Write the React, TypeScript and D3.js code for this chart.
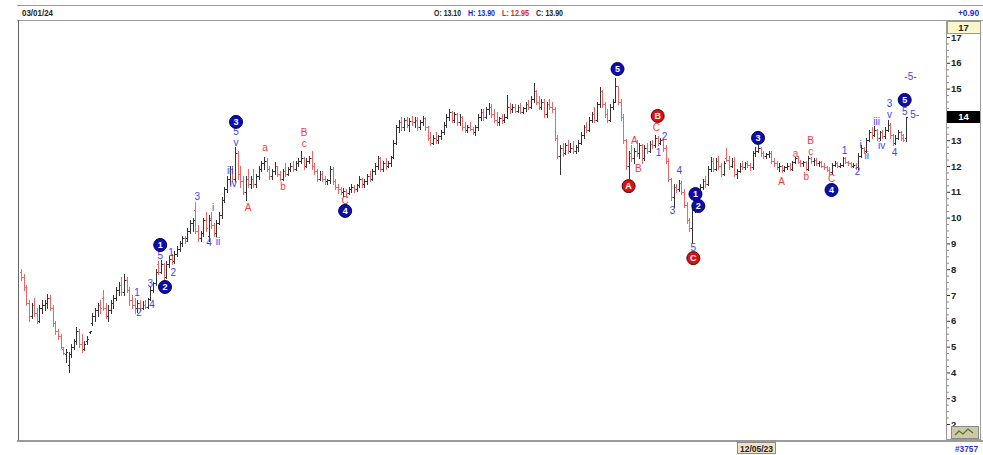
import { useEffect, useRef } from "react";
import * as d3 from "d3";

type Bar = [number, number, number, number]; // open, high, low, close
type Mark = { t: string; i: number; p: number };

// Opening decline into the low
const declineBars: Bar[] = [
  [7.9, 8.0, 7.6, 7.7], [7.7, 7.8, 7.2, 7.3], [7.3, 7.4, 6.6, 6.7], [6.7, 6.8, 6.0, 6.2],
  [6.2, 6.7, 6.1, 6.6], [6.6, 6.9, 6.2, 6.3], [6.3, 6.5, 5.9, 6.0], [6.0, 6.6, 5.95, 6.5],
  [6.5, 6.8, 6.3, 6.6], [6.6, 6.8, 6.4, 6.7], [6.7, 7.05, 6.5, 6.9], [6.9, 7.0, 6.4, 6.5],
  [6.5, 6.6, 5.8, 5.9], [5.9, 6.0, 5.5, 5.6], [5.6, 5.7, 5.3, 5.4], [5.4, 5.5, 4.95, 5.0],
  [4.9, 5.0, 4.7, 4.75], [4.7, 4.9, 4.4, 4.8], [4.3, 4.8, 4.0, 4.7]
];

// Waves 1 and 2
const wave1Bars: Bar[] = [
  [4.7, 5.1, 4.6, 5.0], [5.0, 5.3, 4.9, 5.2], [5.2, 5.75, 5.1, 5.6], [5.6, 5.7, 5.0, 5.1],
  [5.1, 5.5, 4.8, 4.9], [4.9, 5.2, 4.85, 5.1], [5.2, 5.4, 5.1, 5.3], [5.55, 5.62, 5.52, 5.6],
  [5.9, 6.3, 5.85, 6.2], [6.2, 6.5, 6.0, 6.4], [6.4, 6.7, 6.2, 6.6], [6.6, 6.8, 6.3, 6.5],
  [6.9, 7.2, 6.4, 6.5], [6.5, 6.7, 6.1, 6.2], [6.2, 6.6, 6.0, 6.4], [6.4, 6.8, 6.3, 6.7],
  [6.7, 7.0, 6.5, 6.9], [6.9, 7.3, 6.8, 7.2], [7.2, 7.5, 7.0, 7.4], [7.4, 7.7, 7.0, 7.1],
  [7.1, 7.8, 7.0, 7.6], [7.6, 7.7, 7.1, 7.2], [7.2, 7.3, 6.6, 6.8], [6.8, 7.0, 6.5, 6.6],
  [6.6, 6.9, 6.3, 6.5], [6.5, 6.8, 6.35, 6.7], [6.7, 6.8, 6.4, 6.5], [6.5, 6.75, 6.45, 6.6],
  [6.6, 6.8, 6.5, 6.55], [6.55, 6.9, 6.5, 6.85], [6.85, 7.3, 6.8, 7.2], [7.2, 7.5, 7.1, 7.45],
  [7.45, 8.0, 7.4, 7.9], [8.2, 8.3, 7.8, 7.9], [7.9, 8.35, 7.85, 8.2], [8.2, 8.25, 7.6, 7.7]
];

// Wave 3 with its subwaves
const wave3Bars: Bar[] = [
  [7.7, 8.3, 7.65, 8.2], [8.2, 8.5, 8.1, 8.4], [8.4, 8.6, 8.2, 8.3], [8.3, 8.7, 8.25, 8.6],
  [8.6, 8.9, 8.5, 8.8], [8.8, 9.1, 8.7, 9.0], [9.0, 9.3, 8.9, 9.2], [9.2, 9.3, 9.0, 9.1],
  [9.2, 9.6, 9.1, 9.5], [9.5, 9.9, 9.4, 9.8], [9.8, 10.0, 9.5, 9.9], [10.3, 10.6, 9.4, 9.5],
  [9.5, 9.7, 9.1, 9.2], [9.2, 9.5, 9.1, 9.4], [9.4, 10.0, 9.3, 9.9], [9.9, 10.2, 9.5, 9.6],
  [9.3, 10.1, 9.1, 9.9], [10.0, 10.2, 9.6, 9.7], [9.7, 9.8, 9.3, 9.4], [9.4, 9.9, 9.3, 9.8],
  [9.8, 10.2, 9.75, 10.1], [10.1, 10.8, 10.0, 10.7], [10.7, 11.2, 10.6, 11.1], [11.1, 11.6, 11.0, 11.5],
  [11.5, 12.0, 11.3, 11.9], [11.9, 12.0, 11.4, 11.5], [11.5, 12.75, 11.4, 12.5]
];

// Wave 4 (A-B-C) and start of wave 5
const wave4Bars: Bar[] = [
  [12.5, 12.6, 11.5, 11.7], [11.7, 12.0, 11.2, 11.4], [11.4, 11.6, 10.9, 11.0], [11.0, 11.6, 10.7, 11.5],
  [11.5, 11.9, 11.2, 11.3], [11.3, 11.6, 11.15, 11.5], [11.5, 11.9, 11.2, 11.3], [11.3, 11.7, 11.2, 11.6],
  [11.6, 12.0, 11.5, 11.9], [11.9, 12.2, 11.8, 12.1], [12.1, 12.35, 11.9, 12.2], [12.2, 12.3, 11.8, 11.9],
  [11.9, 12.0, 11.5, 11.6], [11.6, 11.9, 11.5, 11.8], [11.8, 12.15, 11.7, 12.0], [12.0, 12.0, 11.6, 11.7],
  [11.7, 11.8, 11.45, 11.5], [11.5, 11.9, 11.45, 11.8], [11.8, 12.1, 11.6, 11.7], [11.7, 11.95, 11.65, 11.9],
  [11.9, 12.1, 11.8, 12.0], [12.0, 12.2, 11.8, 11.9], [11.9, 12.2, 11.85, 12.1], [12.1, 12.3, 12.0, 12.2],
  [12.2, 12.6, 12.1, 12.3], [12.3, 12.35, 11.9, 12.0], [12.0, 12.3, 11.95, 12.2], [12.2, 12.4, 12.1, 12.3],
  [12.3, 12.6, 11.9, 12.0], [12.0, 12.1, 11.7, 11.8], [11.8, 11.9, 11.4, 11.5], [11.5, 11.8, 11.45, 11.7],
  [11.7, 11.8, 11.4, 11.5], [11.5, 11.6, 11.3, 11.4], [11.4, 11.5, 11.3, 11.45], [11.45, 12.0, 11.35, 11.9],
  [11.9, 11.95, 11.3, 11.4], [11.4, 11.5, 11.1, 11.2], [11.2, 11.3, 10.95, 11.1], [11.1, 11.2, 10.9, 11.0],
  [11.0, 11.15, 10.85, 11.05], [11.05, 11.1, 10.8, 10.95], [10.95, 11.2, 10.9, 11.1], [11.1, 11.3, 11.0, 11.2],
  [11.2, 11.25, 11.0, 11.1], [11.1, 11.3, 11.05, 11.25], [11.25, 11.6, 11.2, 11.5], [11.5, 11.55, 11.2, 11.3],
  [11.3, 11.5, 11.2, 11.4], [11.4, 11.7, 11.3, 11.6], [11.6, 11.8, 11.4, 11.5], [11.5, 11.9, 11.45, 11.8],
  [11.8, 12.1, 11.7, 12.0], [12.0, 12.4, 11.9, 12.3], [12.3, 12.35, 11.8, 11.9], [11.9, 12.2, 11.8, 12.1],
  [12.1, 12.3, 11.9, 12.0], [12.0, 12.2, 11.95, 12.1], [12.1, 12.4, 12.0, 12.35]
];

// Plateau up to the wave 5 top
const wave5Bars: Bar[] = [
  [12.35, 13.0, 12.3, 12.9], [12.9, 13.6, 12.85, 13.5], [13.5, 13.8, 13.3, 13.7], [13.7, 13.9, 13.4, 13.5],
  [13.5, 13.85, 13.4, 13.8], [13.8, 13.9, 13.5, 13.6], [13.6, 13.85, 13.35, 13.75], [13.75, 13.95, 13.6, 13.7],
  [13.7, 13.9, 13.5, 13.8], [13.8, 13.9, 13.4, 13.5], [13.5, 13.8, 13.45, 13.7], [13.7, 13.95, 13.6, 13.85],
  [13.85, 13.9, 13.4, 13.5], [13.5, 13.55, 13.0, 13.1], [13.1, 13.3, 12.8, 12.9], [12.9, 13.2, 12.85, 13.1],
  [13.1, 13.3, 12.9, 13.0], [13.0, 13.2, 12.9, 13.15], [13.15, 13.4, 13.05, 13.3], [13.3, 13.7, 13.25, 13.6],
  [13.6, 14.0, 13.5, 13.9], [13.9, 14.2, 13.8, 14.1], [14.1, 14.15, 13.7, 13.8], [13.8, 14.1, 13.7, 14.0],
  [14.0, 14.05, 13.6, 13.7], [13.7, 14.0, 13.6, 13.9], [13.9, 13.95, 13.4, 13.5], [13.5, 13.7, 13.3, 13.4],
  [13.4, 13.6, 13.3, 13.5], [13.5, 13.7, 13.4, 13.45], [13.45, 13.5, 13.25, 13.3], [13.3, 13.6, 13.2, 13.5],
  [13.5, 14.0, 13.4, 13.9], [13.9, 14.2, 13.8, 14.1], [14.1, 14.2, 13.8, 13.9], [13.9, 14.3, 13.85, 14.2],
  [14.2, 14.45, 14.0, 14.3], [14.3, 14.4, 13.9, 14.0], [14.0, 14.2, 13.7, 13.8], [13.8, 14.1, 13.6, 13.7],
  [13.7, 13.9, 13.6, 13.85], [13.85, 14.0, 13.65, 13.8], [13.8, 14.0, 13.7, 13.9], [13.9, 14.75, 13.85, 14.3],
  [14.3, 14.45, 14.05, 14.2], [14.2, 14.4, 14.1, 14.3], [14.3, 14.4, 14.1, 14.15], [14.15, 14.35, 14.1, 14.3],
  [14.3, 14.45, 14.05, 14.1], [14.1, 14.3, 14.05, 14.25], [14.25, 14.5, 14.15, 14.4], [14.4, 14.55, 14.2, 14.3],
  [14.3, 14.7, 14.25, 14.6], [14.6, 15.2, 14.5, 14.9], [14.9, 14.95, 14.4, 14.5], [14.5, 14.7, 14.2, 14.3],
  [14.3, 14.6, 14.2, 14.5], [14.5, 14.6, 13.9, 14.0], [14.0, 14.5, 13.9, 14.4], [14.4, 14.6, 14.2, 14.3],
  [14.3, 14.5, 14.1, 14.2], [14.2, 14.3, 13.0, 13.1], [13.1, 13.2, 12.3, 12.4], [12.4, 12.8, 11.7, 12.7]
];

// Final push and the A-B-C drop
const dropBars: Bar[] = [
  [12.7, 12.9, 12.4, 12.5], [12.5, 12.9, 12.45, 12.8], [12.8, 13.0, 12.5, 12.6], [12.6, 12.9, 12.55, 12.7],
  [12.7, 12.95, 12.5, 12.6], [12.6, 12.8, 12.5, 12.75], [12.75, 13.0, 12.6, 12.9], [12.9, 13.3, 12.85, 13.2],
  [13.2, 13.6, 13.1, 13.5], [13.5, 13.7, 13.3, 13.4], [13.4, 13.9, 13.35, 13.8], [13.8, 14.1, 13.7, 14.0],
  [14.0, 14.3, 13.7, 13.8], [13.8, 14.5, 13.75, 14.4], [14.4, 15.05, 14.3, 14.9], [14.9, 14.95, 14.3, 14.4],
  [14.4, 14.5, 13.9, 14.0], [14.0, 14.2, 13.7, 13.8], [13.8, 14.4, 13.75, 14.3], [14.3, 14.6, 14.2, 14.5],
  [14.5, 15.4, 14.5, 15.1], [15.1, 15.1, 14.4, 14.5], [14.5, 14.6, 13.8, 13.9], [13.9, 14.0, 12.9, 13.0],
  [13.0, 13.05, 11.9, 12.0], [12.0, 12.6, 11.55, 12.5], [12.5, 12.8, 12.2, 12.3], [12.3, 12.7, 12.1, 12.6],
  [12.6, 13.0, 12.4, 12.5], [12.5, 12.9, 12.3, 12.8], [12.8, 12.85, 12.1, 12.3], [12.3, 12.8, 12.25, 12.7],
  [12.7, 12.9, 12.5, 12.6], [12.6, 12.95, 12.55, 12.85], [12.85, 13.0, 12.7, 12.8], [12.8, 13.2, 12.75, 13.1],
  [13.1, 13.15, 12.8, 12.9], [12.9, 13.1, 12.85, 13.0], [13.0, 13.1, 12.6, 12.7], [12.7, 12.8, 12.1, 12.2],
  [12.2, 12.3, 11.4, 11.5], [11.5, 11.55, 10.7, 10.8], [10.8, 11.3, 10.4, 11.2], [11.2, 11.3, 11.0, 11.1],
  [11.1, 11.45, 11.05, 11.35], [11.35, 11.4, 10.9, 11.0], [11.0, 11.1, 10.4, 10.5], [10.5, 10.6, 9.8, 9.9],
  [9.9, 10.0, 9.5, 9.6], [9.6, 10.4, 9.05, 10.3]
];

// New impulse from the C low
const recoveryBars: Bar[] = [
  [10.3, 10.7, 10.2, 10.6], [10.6, 11.0, 10.5, 10.9], [10.9, 11.3, 10.8, 11.2], [11.2, 11.5, 11.1, 11.4],
  [11.4, 11.6, 11.2, 11.3], [11.3, 12.0, 11.25, 11.9], [11.9, 12.35, 11.8, 12.2], [12.2, 12.3, 11.8, 11.9],
  [11.9, 12.3, 11.85, 12.2], [12.2, 12.4, 11.9, 12.0], [12.0, 12.1, 11.6, 11.7], [11.7, 12.2, 11.65, 12.1],
  [12.3, 12.7, 12.2, 12.25], [12.25, 12.4, 11.9, 12.0], [12.0, 12.3, 11.95, 12.2], [12.2, 12.35, 11.6, 11.7],
  [11.7, 11.9, 11.55, 11.8], [11.8, 12.1, 11.75, 12.0], [12.0, 12.2, 11.9, 11.95], [11.95, 12.15, 11.9, 12.1],
  [12.1, 12.2, 11.95, 12.05], [12.05, 12.1, 11.85, 11.95], [11.95, 12.6, 11.9, 12.5], [12.5, 12.75, 12.4, 12.6],
  [12.6, 12.8, 12.55, 12.7], [12.7, 12.75, 12.4, 12.5], [12.5, 12.6, 12.3, 12.4], [12.4, 12.5, 12.3, 12.45],
  [12.45, 12.6, 12.35, 12.5], [12.5, 12.6, 12.1, 12.2], [12.2, 12.3, 12.0, 12.1], [12.1, 12.2, 11.9, 11.95],
  [11.95, 12.1, 11.8, 12.0], [12.0, 12.05, 11.75, 11.85], [11.85, 12.0, 11.8, 11.95], [11.95, 12.1, 11.9, 12.0],
  [12.0, 12.1, 11.85, 11.9], [11.9, 12.2, 11.85, 12.15], [12.15, 12.35, 12.1, 12.3], [12.3, 12.4, 12.1, 12.15],
  [12.15, 12.25, 12.0, 12.1], [12.1, 12.2, 12.0, 12.15], [12.15, 12.2, 11.85, 11.9], [11.9, 12.4, 11.85, 12.3],
  [12.3, 12.35, 12.1, 12.2], [12.2, 12.3, 12.05, 12.25], [12.25, 12.3, 12.05, 12.1], [12.1, 12.2, 12.0, 12.15],
  [12.15, 12.2, 11.95, 12.0], [12.0, 12.1, 11.9, 11.95], [11.95, 12.0, 11.8, 11.85], [11.85, 11.95, 11.7, 11.75],
  [11.75, 12.1, 11.7, 12.05], [12.05, 12.2, 12.0, 12.1], [12.1, 12.15, 11.95, 12.0], [12.0, 12.1, 11.95, 12.05],
  [12.05, 12.35, 12.0, 12.3], [12.3, 12.35, 12.1, 12.15], [12.15, 12.2, 12.05, 12.1], [12.1, 12.15, 11.95, 12.0],
  [12.0, 12.1, 11.95, 12.05], [12.05, 12.1, 11.9, 11.95], [11.95, 12.5, 11.9, 12.4], [12.4, 12.8, 12.35, 12.7],
  [12.7, 12.75, 12.5, 12.6], [12.6, 13.1, 12.55, 13.0], [13.0, 13.4, 12.95, 13.3], [13.3, 13.5, 13.1, 13.2],
  [13.2, 13.55, 13.15, 13.4], [13.4, 13.45, 13.0, 13.1], [13.1, 13.35, 13.0, 13.3], [13.3, 13.4, 13.1, 13.15],
  [13.15, 13.5, 13.1, 13.4], [13.4, 13.8, 13.35, 13.6], [13.6, 13.65, 13.1, 13.2], [13.2, 13.25, 12.8, 12.9],
  [12.9, 13.2, 12.85, 13.1], [13.1, 13.4, 13.05, 13.3], [13.3, 13.35, 13.0, 13.1], [13.2, 13.25, 12.95, 13.0],
  [13.1, 13.9, 12.95, 13.9]
];

const priceTicks = [2, 3, 4, 5, 6, 7, 8, 9, 10, 11, 12, 13, 14, 15, 16, 17];

// Elliott wave counts (bar index, price)
const blueCircles: Mark[] = [
  { t: "1", i: 52.7, p: 8.94 }, { t: "2", i: 54.5, p: 7.31 }, { t: "3", i: 81.4, p: 13.71 },
  { t: "4", i: 122.7, p: 10.26 }, { t: "5", i: 225.8, p: 15.76 }, { t: "1", i: 255.3, p: 10.91 },
  { t: "2", i: 256.4, p: 10.45 }, { t: "3", i: 279, p: 13.09 }, { t: "4", i: 306.8, p: 11.07 },
  { t: "5", i: 334.5, p: 14.56 }
];
const redCircles: Mark[] = [
  { t: "A", i: 230, p: 11.22 }, { t: "B", i: 241, p: 13.94 }, { t: "C", i: 254.5, p: 8.43 }
];
const blueLabels: Mark[] = [
  { t: "5", i: 52.7, p: 8.55 }, { t: "1", i: 56.8, p: 8.63 }, { t: "2", i: 57.6, p: 7.89 },
  { t: "3", i: 48.9, p: 7.43 }, { t: "1", i: 43.9, p: 7.08 }, { t: "2", i: 44.7, p: 6.34 },
  { t: "4", i: 49.6, p: 6.65 }, { t: "3", i: 66.7, p: 10.8 }, { t: "i", i: 72.7, p: 10.41 },
  { t: "4", i: 71.2, p: 9.05 }, { t: "ii", i: 74.6, p: 9.09 }, { t: "5", i: 81.4, p: 13.33 },
  { t: "v", i: 81.4, p: 12.93 }, { t: "iii", i: 79.2, p: 11.81 }, { t: "iv", i: 80.3, p: 11.34 },
  { t: "1", i: 241.3, p: 12.54 }, { t: "2", i: 243.6, p: 13.16 }, { t: "3", i: 246.6, p: 10.26 },
  { t: "4", i: 249.2, p: 11.84 }, { t: "5", i: 254.5, p: 8.86 }, { t: "1", i: 311.7, p: 12.62 },
  { t: "2", i: 316.7, p: 11.77 }, { t: "i", i: 317.8, p: 12.85 }, { t: "ii", i: 320.1, p: 12.39 },
  { t: "iii", i: 323.9, p: 13.74 }, { t: "iv", i: 325.8, p: 12.78 }, { t: "3", i: 328.8, p: 14.41 },
  { t: "v", i: 328.8, p: 14.0 }, { t: "4", i: 330.7, p: 12.54 }, { t: "5", i: 334.5, p: 14.13 },
  { t: "5-", i: 338.3, p: 13.98 }, { t: "-5-", i: 336.7, p: 15.45 }
];
const redLabels: Mark[] = [
  { t: "A", i: 86, p: 10.41 }, { t: "a", i: 92.4, p: 12.7 }, { t: "b", i: 99.2, p: 11.19 },
  { t: "B", i: 107.2, p: 13.3 }, { t: "c", i: 107.2, p: 12.87 }, { t: "C", i: 122.7, p: 10.68 },
  { t: "A", i: 232.2, p: 12.97 }, { t: "B", i: 233.7, p: 11.92 }, { t: "C", i: 240.5, p: 13.51 },
  { t: "A", i: 287.9, p: 11.38 }, { t: "a", i: 293.2, p: 12.47 }, { t: "b", i: 297.3, p: 11.61 },
  { t: "B", i: 298.9, p: 13.0 }, { t: "c", i: 298.9, p: 12.57 }, { t: "C", i: 306.8, p: 11.5 }
];

const lastDate = "03/01/24";
const cursorDate = "12/05/23";
const quoteParts = ["O: 13.10", "H: 13.90", "L: 12.95", "C: 13.90"];
const quoteChange = "+0.90";
const barCount = "#3757";

const FONT = "'Liberation Sans', Arial, sans-serif";

export default function App() {
  const svgRef = useRef<SVGSVGElement>(null);

  useEffect(() => {
    if (!svgRef.current) return;
    const svg = d3.select(svgRef.current);
    svg.selectAll("*").remove();

    const bars = [
      ...declineBars, ...wave1Bars, ...wave3Bars, ...wave4Bars,
      ...wave5Bars, ...dropBars, ...recoveryBars
    ];
    const last = bars[bars.length - 1];
    const lastTag = Math.round(last[3]);

    const x = d3.scaleLinear().domain([0, bars.length - 1]).range([21, 906]);
    const y = d3.scaleLinear().domain([2, 17]).range([424, 37]);
    const px = (i: number) => Math.round(x(i)) + 0.5;
    const py = (v: number) => Math.round(y(v)) + 0.5;

    svg.append("rect").attr("width", 983).attr("height", 455).attr("fill", "#fff");

    // Frame lines
    const frame = svg.append("g").attr("stroke", "#9a9a9a").attr("shape-rendering", "crispEdges");
    frame.append("line").attr("x1", 17).attr("x2", 983).attr("y1", 5.5).attr("y2", 5.5);
    frame.append("line").attr("x1", 17).attr("x2", 983).attr("y1", 20.5).attr("y2", 20.5);
    frame.append("line").attr("x1", 18.5).attr("x2", 18.5).attr("y1", 20).attr("y2", 441).attr("stroke", "#666");
    frame.append("line").attr("x1", 17).attr("x2", 983).attr("y1", 440.5).attr("y2", 440.5).attr("stroke-width", 2);
    frame.append("rect").attr("x", 946.5).attr("y", 20.5).attr("width", 34).attr("height", 419).attr("fill", "#fff");

    // Header (narrow bold text)
    const head = svg.append("g").attr("font-family", FONT).attr("font-size", 9.5).attr("font-weight", "bold");
    head.append("text").attr("x", 22).attr("y", 16).attr("fill", "#222")
      .attr("textLength", 31).attr("lengthAdjust", "spacingAndGlyphs").text(lastDate);
    const quoteColors = ["#222", "#2424e0", "#e02424", "#222"];
    const quoteX = [434, 468, 502, 536];
    quoteParts.forEach((t, k) => {
      head.append("text").attr("x", quoteX[k]).attr("y", 16).attr("fill", quoteColors[k])
        .attr("textLength", 27).attr("lengthAdjust", "spacingAndGlyphs").text(t);
    });
    head.append("text").attr("x", 958).attr("y", 16).attr("fill", "#2424e0")
      .attr("textLength", 21).attr("lengthAdjust", "spacingAndGlyphs").text(quoteChange);

    // Price axis (label under the last price tag is covered by it)
    svg.append("g").attr("transform", "translate(947,0)")
      .call(
        d3.axisRight(y).tickValues(priceTicks).tickSize(3).tickPadding(1)
          .tickFormat((d) => (Number(d) === lastTag ? "" : String(d)))
      )
      .call((g) => g.select(".domain").remove())
      .call((g) => g.selectAll("line").attr("stroke", "#333"))
      .call((g) =>
        g.selectAll("text").attr("fill", "#222").attr("font-family", FONT)
          .attr("font-size", 9.5).attr("font-weight", "bold")
      );
    const minor = d3.range(2, 17.01, 0.25).filter((v) => v % 1 !== 0);
    svg.append("g").attr("transform", "translate(947,0)")
      .call(d3.axisRight(y).tickValues(minor).tickSize(2).tickFormat(() => ""))
      .call((g) => g.select(".domain").remove())
      .call((g) => g.selectAll("line").attr("stroke", "#888"));

    // Top scale box
    svg.append("rect").attr("x", 947).attr("y", 21).attr("width", 33).attr("height", 12)
      .attr("fill", "#fbf6cc").attr("stroke", "#999").attr("shape-rendering", "crispEdges");
    svg.append("text").attr("x", 963.5).attr("y", 31).attr("text-anchor", "middle")
      .attr("font-family", FONT).attr("font-size", 9.5).attr("font-weight", "bold").attr("fill", "#222")
      .text(priceTicks[priceTicks.length - 1]);

    // Last price tag
    svg.append("rect").attr("x", 947).attr("y", Math.round(y(last[3])) - 6).attr("width", 33).attr("height", 12)
      .attr("fill", "#000");
    svg.append("text").attr("x", 963.5).attr("y", y(last[3]) + 3.5).attr("text-anchor", "middle")
      .attr("font-family", FONT).attr("font-size", 9.5).attr("font-weight", "bold").attr("fill", "#fff")
      .text(lastTag);

    // Small icon bottom right
    svg.append("rect").attr("x", 951.5).attr("y", 426.5).attr("width", 27).attr("height", 12)
      .attr("fill", "#cfc8a8").attr("stroke", "#8a8a8a");
    svg.append("path").attr("d", "M955,435 L959,431 L963,434 L968,429 L973,433")
      .attr("fill", "none").attr("stroke", "#4a7a20").attr("stroke-width", 1.2);

    // Bottom bar
    svg.append("rect").attr("x", 737.5).attr("y", 442.5).attr("width", 38).attr("height", 11)
      .attr("fill", "#ece4c4").attr("stroke", "#8a8a8a");
    svg.append("text").attr("x", 740).attr("y", 451.5)
      .attr("font-family", FONT).attr("font-size", 9).attr("font-weight", "bold").attr("fill", "#222")
      .attr("textLength", 33).attr("lengthAdjust", "spacingAndGlyphs")
      .text(cursorDate);
    svg.append("text").attr("x", 955).attr("y", 452)
      .attr("font-family", FONT).attr("font-size", 9).attr("font-weight", "bold").attr("fill", "#3030d0")
      .attr("textLength", 23).attr("lengthAdjust", "spacingAndGlyphs")
      .text(barCount);

    // OHLC bars
    svg.append("g")
      .attr("shape-rendering", "crispEdges")
      .attr("fill", "none")
      .selectAll("path")
      .data(bars)
      .join("path")
      .attr("stroke", (d) => (d[3] < d[0] ? "#f26464" : "#333"))
      .attr("stroke-width", 1)
      .attr("d", (d, i) => {
        const cx = px(i);
        return `M${cx},${py(d[1]) - 0.5}V${py(d[2]) + 0.5}M${cx - 1.5},${py(d[0])}H${cx}M${cx},${py(d[3])}H${cx + 1.5}`;
      });

    // Wave labels
    const addLabels = (data: Mark[], color: string) => {
      svg.append("g")
        .selectAll("text")
        .data(data)
        .join("text")
        .attr("x", (d) => x(d.i))
        .attr("y", (d) => y(d.p))
        .attr("dy", "0.35em")
        .attr("text-anchor", "middle")
        .attr("font-family", FONT)
        .attr("font-size", 10)
        .attr("fill", color)
        .text((d) => d.t);
    };
    addLabels(blueLabels, "#3f3ff2");
    addLabels(redLabels, "#f03c3c");

    const addCircles = (data: Mark[], fill: string, stroke: string) => {
      const g = svg.append("g").selectAll("g").data(data).join("g")
        .attr("transform", (d) => `translate(${x(d.i)},${y(d.p)})`);
      g.append("circle").attr("r", 6.5).attr("fill", fill).attr("stroke", stroke).attr("stroke-width", 1);
      g.append("text")
        .attr("text-anchor", "middle")
        .attr("dy", "0.35em")
        .attr("font-family", FONT)
        .attr("font-size", 9)
        .attr("font-weight", "bold")
        .attr("fill", "#fff")
        .text((d) => d.t);
    };
    addCircles(blueCircles, "#0c0cb0", "#00004a");
    addCircles(redCircles, "#dd1010", "#5a0000");
  }, []);

  return (
    <svg
      ref={svgRef}
      width={983}
      height={455}
      style={{ position: "fixed", left: 0, top: 0, display: "block" }}
    />
  );
}
